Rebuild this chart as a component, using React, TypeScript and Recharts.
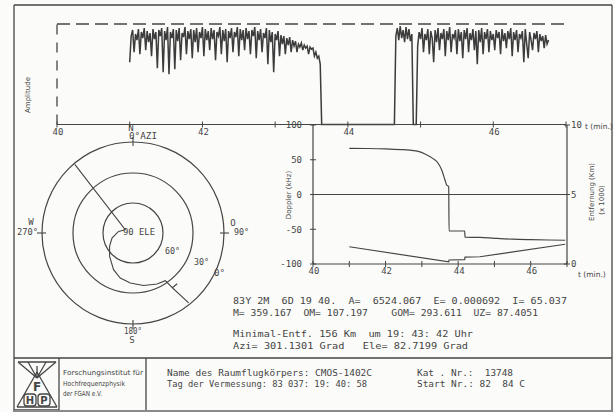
import { LineChart, ComposedChart, ScatterChart, Line, Scatter, XAxis, YAxis, ReferenceLine, ReferenceDot } from 'recharts'

const INK = '#454545'
const PAPER = '#fbfbf9'
const MONO = '"DejaVu Sans Mono", "Liberation Mono", monospace'
const SANS = '"DejaVu Sans", "Liberation Sans", sans-serif'

// amplitude trace, one sample every 0.02 min, three stretches with signal
const ampStep = 0.02
const amp1Start = 41.0
const amp1 = [
  62, 88, 94, 72, 90, 84, 95, 70,
  92, 86, 96, 74, 93, 82, 91, 68,
  95, 85, 92, 56, 94, 88, 96, 52,
  93, 84, 97, 50, 92, 86, 95, 55,
  94, 83, 96, 64, 91, 87, 97, 70,
  93, 85, 95, 66, 94, 82, 96, 72,
  92, 86, 97, 68, 95, 84, 93, 74,
  96, 85, 94, 64, 92, 88, 97, 70,
  94, 83, 95, 62, 93, 86, 96, 72,
  92, 87, 97, 68, 95, 84, 94, 74,
  96, 85, 93, 70, 94, 88, 97, 66,
  93, 84, 95, 72, 91, 86, 96, 60,
  94, 82, 92, 52, 90, 84, 93, 68,
  89, 80, 88, 70, 86, 79, 87, 72,
  84, 78, 83, 72, 80, 77, 81, 74,
  79, 76, 78, 70, 77, 75, 76, 68,
  72, 66, 68, 60, 0,
]
const amp2Start = 44.64
const amp2 = [0, 88, 96, 84, 98, 86, 94, 82, 97, 85, 95, 83, 90, 0]
const amp3Start = 44.94
const amp3 = [
  0,
  78, 92, 85, 96, 72, 90, 84, 95,
  70, 93, 86, 62, 94, 82, 96, 74,
  91, 85, 95, 68, 93, 84, 97, 72,
  90, 86, 94, 70, 95, 83, 92, 66,
  94, 85, 96, 72, 91, 84, 95, 74,
  93, 60, 94, 82, 96, 70, 92, 85,
  95, 72, 93, 84, 90, 74, 94, 86,
  92, 70, 95, 83, 91, 76, 93, 85,
  96, 68, 92, 84, 94, 72, 90, 86,
  93, 62, 95, 80, 66, 92, 84, 74,
  91, 85, 93, 72, 90, 83, 88, 76,
  89, 80, 84,
]

const timeTicks = [40, 41, 42, 43, 44, 45, 46, 47]
const timeLabels = [40, 42, 44, 46]

// doppler (kHz) and range (x1000 km)
const dopTime = [41.0, 41.5, 42.0, 42.5, 42.9, 43.1, 43.3, 43.45, 43.55, 43.63, 43.68, 43.74, 43.75, 44.18, 44.19, 44.6, 45.0, 45.5, 46.0, 46.5, 46.95]
const dopKHz = [66.5, 66.2, 65.6, 64.5, 62, 58, 52, 45, 35, 22, 14, 11, -52.5, -52.5, -61.5, -61.8, -63, -64.3, -65, -65.5, -65.8]
const rngTime = [41.0, 43.74, 43.75, 44.18, 44.19, 44.6, 46.95]
const rngKm = [1.24, 0.156, 0.29, 0.32, 0.5, 0.52, 1.42]
const dopTicks = [-100, -50, 0, 50, 100]
const rngTicks = [0, 5, 10]

// antenna track, azimuth / elevation in degrees
const trackAz = [319.7, 293, 276.3, 256.6, 240.2, 225, 207.9, 195.8, 183.1, 168.6, 154.8, 145.9, 144.3, 138.9, 144.3, 141.5]
const trackEl = [0, 81.6, 75.5, 68.4, 63, 56.9, 48.5, 43.2, 39.9, 36.5, 33.6, 32.4, 22.6, 22.7, 22.6, 0.6]
const eleRings = [60, 30, 0]
const compassAz = [0, 90, 180, 270]

const toSeries = (start: number, vals: number[]) =>
  vals.map((a, i) => ({ t: +(start + i * ampStep).toFixed(2), a }))
const ampData = [...toSeries(amp1Start, amp1), ...toSeries(amp2Start, amp2), ...toSeries(amp3Start, amp3)]
const dopData = dopTime.map((t, i) => ({ t, v: dopKHz[i] }))
const rngData = rngTime.map((t, i) => ({ t, v: rngKm[i] }))

const rad = (d: number) => (d * Math.PI) / 180
const polar = (az: number, r: number) => ({ x: r * Math.sin(rad(az)), y: r * Math.cos(rad(az)) })
const track = trackAz.map((az, i) => polar(az, 90 - trackEl[i]))

const timeTick = (props: any) => {
  const { x, y, payload } = props
  return (
    <g>
      <line x1={x} x2={x} y1={y - 3} y2={y + 3} stroke={INK} />
      {timeLabels.includes(payload.value) && (
        <text x={x + 1} y={y + 10} textAnchor="middle" fontSize={9} fontFamily={MONO} fill={INK}>
          {payload.value}
        </text>
      )}
    </g>
  )
}

const leftTick = (props: any) => {
  const { x, y, payload } = props
  return (
    <g>
      <line x1={x - 3} x2={x + 3} y1={y} y2={y} stroke={INK} />
      <text x={x - 11} y={y + 3.3} textAnchor="end" fontSize={9} fontFamily={MONO} fill={INK}>
        {payload.value}
      </text>
    </g>
  )
}

const rightTick = (props: any) => {
  const { x, y, payload } = props
  return (
    <g>
      <line x1={x - 3} x2={x + 3} y1={y} y2={y} stroke={INK} />
      <text x={x + 4} y={y + 3.3} textAnchor="start" fontSize={9} fontFamily={MONO} fill={INK}>
        {payload.value}
      </text>
    </g>
  )
}

const T = (p: { x: number; y: number; s?: number; a?: 'start' | 'middle' | 'end'; len?: number; f?: string; w?: number; children: string }) => (
  <text
    x={p.x}
    y={p.y}
    fontSize={p.s ?? 9.5}
    textAnchor={p.a ?? 'start'}
    fontFamily={p.f ?? MONO}
    fontWeight={p.w ?? 400}
    fill={INK}
    style={{ whiteSpace: 'pre' }}
    textLength={p.len}
    lengthAdjust={p.len ? 'spacingAndGlyphs' : undefined}
  >
    {p.children}
  </text>
)

export default function App() {
  return (
    <div style={{ position: 'absolute', left: 0, top: 0, width: 614, height: 412, background: PAPER, overflow: 'hidden' }}>
      <div style={{ position: 'absolute', left: 0, top: 0 }}>
        <LineChart width={614} height={150} data={ampData} margin={{ top: 24, right: 48, bottom: 5, left: 57 }}>
          <XAxis
            dataKey="t"
            type="number"
            domain={[40, 47]}
            ticks={timeTicks}
            interval={0}
            tick={timeTick}
            tickSize={0}
            tickMargin={0}
            tickLine={false}
            height={20.5}
            axisLine={{ stroke: INK, strokeWidth: 1.2 }}
            allowDataOverflow
          />
          <YAxis hide domain={[0, 100]} />
          <ReferenceLine y={100} stroke={INK} strokeWidth={1.3} strokeDasharray="13 6" />
          <ReferenceLine x={40} stroke={INK} strokeWidth={1.3} strokeDasharray="10 8" />
          <Line dataKey="a" type="linear" stroke="#3c3c3c" strokeWidth={1.5} dot={false} isAnimationActive={false} />
        </LineChart>
      </div>

      <div style={{ position: 'absolute', left: 263, top: 115 }}>
        <ComposedChart width={351} height={175} margin={{ top: 10, right: 0, bottom: 6, left: 0 }}>
          <XAxis
            dataKey="t"
            type="number"
            domain={[40, 47]}
            ticks={timeTicks}
            interval={0}
            tick={timeTick}
            tickSize={0}
            tickMargin={0}
            tickLine={false}
            height={20}
            axisLine={{ stroke: INK, strokeWidth: 1.2 }}
            allowDataOverflow
          />
          <YAxis
            yAxisId="dop"
            type="number"
            domain={[-100, 100]}
            ticks={dopTicks}
            interval={0}
            width={50}
            tick={leftTick}
            tickSize={0}
            tickMargin={0}
            tickLine={false}
            axisLine={{ stroke: INK, strokeWidth: 1.2 }}
          />
          <YAxis
            yAxisId="rng"
            orientation="right"
            type="number"
            domain={[0, 10]}
            ticks={rngTicks}
            interval={0}
            width={47}
            tick={rightTick}
            tickSize={0}
            tickMargin={0}
            tickLine={false}
            axisLine={{ stroke: INK, strokeWidth: 1.2 }}
          />
          <ReferenceLine yAxisId="dop" y={0} stroke={INK} strokeWidth={1.1} />
          <Line yAxisId="dop" data={dopData} dataKey="v" type="monotone" stroke={INK} strokeWidth={1.2} dot={false} isAnimationActive={false} />
          <Line yAxisId="rng" data={rngData} dataKey="v" type="linear" stroke={INK} strokeWidth={1.2} dot={false} isAnimationActive={false} />
        </ComposedChart>
      </div>

      <div style={{ position: 'absolute', left: 33, top: 133 }}>
        <ScatterChart width={200} height={200} margin={{ top: 0, right: 0, bottom: 0, left: 0 }}>
          <XAxis type="number" dataKey="x" domain={[-100, 100]} hide />
          <YAxis type="number" dataKey="y" domain={[-100, 100]} hide />
          {eleRings.map((el) => (
            <ReferenceDot key={el} x={0} y={0} r={el === 0 ? 91 : 90 - el} fill="none" stroke={INK} strokeWidth={1.2} />
          ))}
          {compassAz.map((az) => (
            <ReferenceLine key={az} segment={[polar(az, 87), polar(az, 96)]} stroke={INK} strokeWidth={1.1} />
          ))}
          <Scatter data={track} line={{ stroke: INK, strokeWidth: 1.1 }} shape={() => <g />} isAnimationActive={false} />
        </ScatterChart>
      </div>

      <svg width={614} height={412} style={{ position: 'absolute', left: 0, top: 0, pointerEvents: 'none' }}>
        <g stroke={INK} strokeWidth={1.3} fill="none">
          <line x1={14} y1={5} x2={612} y2={5} />
          <line x1={14} y1={5} x2={14} y2={412} />
          <line x1={612} y1={5} x2={612} y2={412} />
          <line x1={14} y1={358} x2={612} y2={358} />
          <line x1={146} y1={358} x2={146} y2={412} />
          <line x1={59} y1={358} x2={59} y2={410} />
          <line x1={14} y1={410} x2={59} y2={410} />
          <line x1={14} y1={411} x2={612} y2={411} stroke="#8a8a8a" strokeWidth={2} />
          {/* logo */}
          <line x1={18} y1={362} x2={56} y2={362} />
          <line x1={18} y1={362} x2={37} y2={378} />
          <line x1={56} y1={362} x2={37} y2={378} />
          <line x1={28} y1={362} x2={37} y2={378} />
          <line x1={46} y1={362} x2={37} y2={378} />
          <line x1={37} y1={366} x2={37} y2={378} />
          <line x1={37} y1={372} x2={17} y2={407} />
          <line x1={37} y1={372} x2={57} y2={407} />
          <line x1={17} y1={407} x2={57} y2={407} />
          <rect x={24} y={394} width={12} height={12} rx={3} />
          <rect x={38} y={394} width={12} height={12} rx={3} />
        </g>
        <T x={37} y={391} s={12} a="middle" f={SANS} w={700}>F</T>
        <T x={30} y={404} s={10} a="middle" f={SANS} w={700}>H</T>
        <T x={44} y={404} s={10} a="middle" f={SANS} w={700}>P</T>

        <T x={63} y={375} s={7} f={SANS} len={80}>Forschungsinstitut für</T>
        <T x={63} y={386} s={7} f={SANS} len={62}>Hochfrequenzphysik</T>
        <T x={63} y={396} s={7} f={SANS} len={39}>der FGAN e.V.</T>

        <T x={167} y={375.5} s={9.5} len={205}>Name des Raumflugkörpers: CMOS-1402C</T>
        <T x={167} y={387} s={9.5} len={200}>Tag der Vermessung: 83 037: 19: 40: 58</T>
        <T x={417} y={375.5} s={9.5} len={96}>Kat . Nr.:  13748</T>
        <T x={417} y={387} s={9.5} len={108}>Start Nr.: 82  84 C</T>

        <T x={233} y={303.5} len={334}>83Y 2M  6D 19 40.  A=  6524.067  E= 0.000692  I= 65.037</T>
        <T x={233} y={315.5} len={305}>M= 359.167  OM= 107.197    GOM= 293.611  UZ= 87.4051</T>
        <T x={233} y={336.5} len={240}>Minimal-Entf. 156 Km  um 19: 43: 42 Uhr</T>
        <T x={233} y={348.5} len={235}>Azi= 301.1301 Grad   Ele= 82.7199 Grad</T>

        {/* axis titles */}
        <g transform="translate(30 95) rotate(-90)">
          <T x={0} y={0} s={7} a="middle" f={SANS}>Amplitude</T>
        </g>
        <T x={585} y={129} s={7.5} f={SANS}>t (min.)</T>
        <g transform="translate(291 195) rotate(-90)">
          <T x={0} y={0} s={7} a="middle" f={SANS}>Doppler (kHz)</T>
        </g>
        <g transform="translate(594 192) rotate(-90)">
          <T x={0} y={0} s={7} a="middle" f={SANS}>Entfernung (Km)</T>
        </g>
        <g transform="translate(604 200) rotate(-90)">
          <T x={0} y={0} s={7} a="middle" f={SANS}>(x 1000)</T>
        </g>
        <T x={578} y={277} s={7.5} f={SANS}>t (min.)</T>

        {/* polar labels */}
        <T x={131} y={130.5} s={9} a="middle">N</T>
        <T x={129} y={139} s={9} len={28}>0°AZI</T>
        <T x={31} y={225} s={9} a="middle">W</T>
        <T x={17} y={235} s={9} len={21}>270°</T>
        <T x={233} y={226} s={9} a="middle">O</T>
        <T x={234} y={235} s={9} len={15}>90°</T>
        <T x={124} y={333.5} s={9} len={18}>180°</T>
        <T x={132} y={343} s={9} a="middle">S</T>
        <T x={123} y={235} s={9} len={32}>90 ELE</T>
        <T x={165} y={253.5} s={9} len={15}>60°</T>
        <T x={194} y={265} s={9} len={15}>30°</T>
        <T x={214} y={275.5} s={9} len={11}>0°</T>
      </svg>
    </div>
  )
}
